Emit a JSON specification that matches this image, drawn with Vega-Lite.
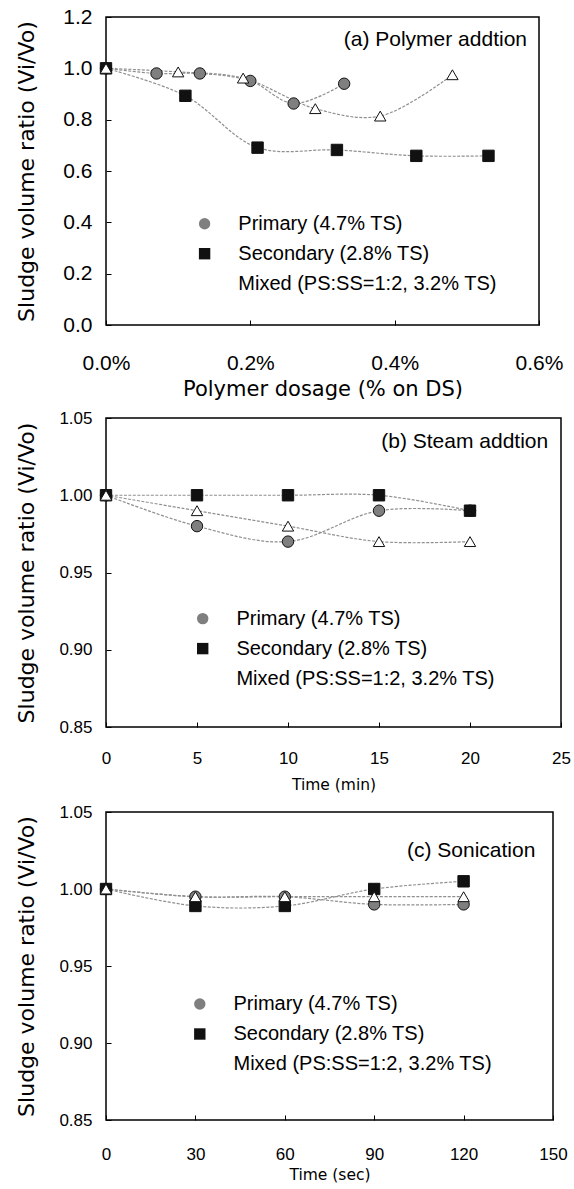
{
  "$schema": "https://vega.github.io/schema/vega-lite/v6.json",
  "background": "white",
  "padding": {"left": 14, "top": 5, "right": 5, "bottom": 0},
  "columns": 1,
  "spacing": 8,
  "resolve": {
    "scale": {"shape": "independent", "fill": "independent"}
  },
  "config": {
    "view": {"stroke": "#000", "strokeWidth": 1.5},
    "axis": {
      "labelColor": "#000", "titleColor": "#000", "tickColor": "#000",
      "grid": false, "domain": false, "labelFont": "Liberation Sans",
      "titleFont": "DejaVu Sans", "titleFontWeight": "normal",
      "labelOverlap": false, "labelFlush": false, "ticks": true, "tickSize": -5, "tickWidth": 1
    },
    "legend": {
      "symbolSize": 130, "labelFontSize": 20,
      "labelFont": "Liberation Sans", "labelColor": "#000", "labelOffset": 23.7,
      "rowPadding": 10, "padding": 0, "labelLimit": 400, "symbolStrokeWidth": 1,
      "symbolStrokeColor": "#111", "symbolOpacity": 1
    },
    "text": {"font": "Liberation Sans"}
  },
  "datasets": {
    "a": [
      {"series": "Primary (4.7% TS)", "x": 0, "y": 1.0},
      {"series": "Primary (4.7% TS)", "x": 0.07, "y": 0.98},
      {"series": "Primary (4.7% TS)", "x": 0.13, "y": 0.98},
      {"series": "Primary (4.7% TS)", "x": 0.2, "y": 0.951},
      {"series": "Primary (4.7% TS)", "x": 0.26, "y": 0.863},
      {"series": "Primary (4.7% TS)", "x": 0.33, "y": 0.94},
      {"series": "Secondary (2.8% TS)", "x": 0, "y": 1.0},
      {"series": "Secondary (2.8% TS)", "x": 0.11, "y": 0.893},
      {"series": "Secondary (2.8% TS)", "x": 0.21, "y": 0.691},
      {"series": "Secondary (2.8% TS)", "x": 0.32, "y": 0.682},
      {"series": "Secondary (2.8% TS)", "x": 0.43, "y": 0.659},
      {"series": "Secondary (2.8% TS)", "x": 0.53, "y": 0.659},
      {"series": "Mixed (PS:SS=1:2, 3.2% TS)", "x": 0, "y": 1.0},
      {"series": "Mixed (PS:SS=1:2, 3.2% TS)", "x": 0.1, "y": 0.986},
      {"series": "Mixed (PS:SS=1:2, 3.2% TS)", "x": 0.19, "y": 0.962},
      {"series": "Mixed (PS:SS=1:2, 3.2% TS)", "x": 0.29, "y": 0.843},
      {"series": "Mixed (PS:SS=1:2, 3.2% TS)", "x": 0.38, "y": 0.814},
      {"series": "Mixed (PS:SS=1:2, 3.2% TS)", "x": 0.48, "y": 0.975}
    ],
    "b": [
      {"series": "Primary (4.7% TS)", "x": 0, "y": 1.0},
      {"series": "Primary (4.7% TS)", "x": 5, "y": 0.98},
      {"series": "Primary (4.7% TS)", "x": 10, "y": 0.97},
      {"series": "Primary (4.7% TS)", "x": 15, "y": 0.99},
      {"series": "Primary (4.7% TS)", "x": 20, "y": 0.99},
      {"series": "Secondary (2.8% TS)", "x": 0, "y": 1.0},
      {"series": "Secondary (2.8% TS)", "x": 5, "y": 1.0},
      {"series": "Secondary (2.8% TS)", "x": 10, "y": 1.0},
      {"series": "Secondary (2.8% TS)", "x": 15, "y": 1.0},
      {"series": "Secondary (2.8% TS)", "x": 20, "y": 0.99},
      {"series": "Mixed (PS:SS=1:2, 3.2% TS)", "x": 0, "y": 1.0},
      {"series": "Mixed (PS:SS=1:2, 3.2% TS)", "x": 5, "y": 0.99},
      {"series": "Mixed (PS:SS=1:2, 3.2% TS)", "x": 10, "y": 0.98},
      {"series": "Mixed (PS:SS=1:2, 3.2% TS)", "x": 15, "y": 0.97},
      {"series": "Mixed (PS:SS=1:2, 3.2% TS)", "x": 20, "y": 0.97}
    ],
    "c": [
      {"series": "Primary (4.7% TS)", "x": 0, "y": 1.0},
      {"series": "Primary (4.7% TS)", "x": 30, "y": 0.995},
      {"series": "Primary (4.7% TS)", "x": 60, "y": 0.995},
      {"series": "Primary (4.7% TS)", "x": 90, "y": 0.99},
      {"series": "Primary (4.7% TS)", "x": 120, "y": 0.99},
      {"series": "Secondary (2.8% TS)", "x": 0, "y": 1.0},
      {"series": "Secondary (2.8% TS)", "x": 30, "y": 0.989},
      {"series": "Secondary (2.8% TS)", "x": 60, "y": 0.989},
      {"series": "Secondary (2.8% TS)", "x": 90, "y": 1.0},
      {"series": "Secondary (2.8% TS)", "x": 120, "y": 1.005},
      {"series": "Mixed (PS:SS=1:2, 3.2% TS)", "x": 0, "y": 1.0},
      {"series": "Mixed (PS:SS=1:2, 3.2% TS)", "x": 30, "y": 0.995},
      {"series": "Mixed (PS:SS=1:2, 3.2% TS)", "x": 60, "y": 0.995},
      {"series": "Mixed (PS:SS=1:2, 3.2% TS)", "x": 90, "y": 0.995},
      {"series": "Mixed (PS:SS=1:2, 3.2% TS)", "x": 120, "y": 0.995}
    ]
  },
  "concat": [
    {
      "width": 433,
      "height": 308,
      "layer": [
        {
          "data": {"name": "a"},
          "mark": {"type": "line", "interpolate": "catmull-rom", "color": "#8f8f8f", "strokeWidth": 1.2, "strokeDash": [3, 1.5]},
          "encoding": {
            "x": {"field": "x", "type": "quantitative", "scale": {"domain": [0, 0.6], "nice": false, "zero": false},
              "axis": {"title": "Polymer dosage (% on DS)", "values": [0, 0.2, 0.4, 0.6], "labelExpr": "format(datum.value, '.1f') + '%'", "labelFontSize": 21, "labelPadding": 32, "titleFontSize": 21, "titlePadding": 5}},
            "y": {"field": "y", "type": "quantitative", "scale": {"domain": [0, 1.2], "nice": false, "zero": false},
              "axis": {"title": "Sludge volume ratio (Vi/Vo)", "values": [0, 0.2, 0.4, 0.6, 0.8, 1.0, 1.2], "format": ".1f", "labelFontSize": 21, "labelPadding": 19, "titleFontSize": 22, "titlePadding": 24.8}},
            "detail": {"field": "series"}
          }
        },
        {
          "data": {"name": "a"},
          "mark": {"type": "point", "filled": true, "opacity": 1, "stroke": "#111", "strokeWidth": 1, "size": 130},
          "encoding": {
            "x": {"field": "x", "type": "quantitative", "title": "Polymer dosage (% on DS)"},
            "y": {"field": "y", "type": "quantitative", "title": "Sludge volume ratio (Vi/Vo)"},
            "shape": {"field": "series", "type": "nominal",
              "scale": {"domain": ["Primary (4.7% TS)", "Secondary (2.8% TS)", "Mixed (PS:SS=1:2, 3.2% TS)"], "range": ["circle", "square", "triangle-up"]},
              "legend": {"orient": "none", "title": null, "legendX": 88.6, "legendY": 196.7}},
            "fill": {"field": "series", "type": "nominal",
              "scale": {"domain": ["Primary (4.7% TS)", "Secondary (2.8% TS)", "Mixed (PS:SS=1:2, 3.2% TS)"], "range": ["#7f7f7f", "#111111", "#ffffff"]},
              "legend": {"orient": "none", "title": null, "legendX": 88.6, "legendY": 196.7}}
          }
        },
        {
          "data": {"values": [{"label": "(a) Polymer addtion"}]},
          "mark": {"type": "text", "align": "right", "baseline": "middle", "fontSize": 21, "dx": -12, "color": "#000"},
          "encoding": {
            "x": {"datum": 0.6, "type": "quantitative", "title": "Polymer dosage (% on DS)"},
            "y": {"datum": 1.1104, "type": "quantitative", "title": "Sludge volume ratio (Vi/Vo)"},
            "text": {"field": "label"}
          }
        }
      ]
    },
    {
      "width": 455,
      "height": 309,
      "layer": [
        {
          "data": {"name": "b"},
          "mark": {"type": "line", "interpolate": "catmull-rom", "color": "#8f8f8f", "strokeWidth": 1.2, "strokeDash": [3, 1.5]},
          "encoding": {
            "x": {"field": "x", "type": "quantitative", "scale": {"domain": [0, 25], "nice": false, "zero": false},
              "axis": {"title": "Time (min)", "values": [0, 5, 10, 15, 20, 25], "format": "d", "labelFontSize": 17, "labelPadding": 28, "titleFontSize": 15.5, "titlePadding": 11}},
            "y": {"field": "y", "type": "quantitative", "scale": {"domain": [0.85, 1.05], "nice": false, "zero": false},
              "axis": {"title": "Sludge volume ratio (Vi/Vo)", "values": [0.85, 0.9, 0.95, 1.0, 1.05], "format": ".2f", "labelFontSize": 17, "labelPadding": 19, "titleFontSize": 22, "titlePadding": 20.9}},
            "detail": {"field": "series"}
          }
        },
        {
          "data": {"name": "b"},
          "mark": {"type": "point", "filled": true, "opacity": 1, "stroke": "#111", "strokeWidth": 1, "size": 130},
          "encoding": {
            "x": {"field": "x", "type": "quantitative", "title": "Time (min)"},
            "y": {"field": "y", "type": "quantitative", "title": "Sludge volume ratio (Vi/Vo)"},
            "shape": {"field": "series", "type": "nominal",
              "scale": {"domain": ["Primary (4.7% TS)", "Secondary (2.8% TS)", "Mixed (PS:SS=1:2, 3.2% TS)"], "range": ["circle", "square", "triangle-up"]},
              "legend": {"orient": "none", "title": null, "legendX": 86.7, "legendY": 190.6}},
            "fill": {"field": "series", "type": "nominal",
              "scale": {"domain": ["Primary (4.7% TS)", "Secondary (2.8% TS)", "Mixed (PS:SS=1:2, 3.2% TS)"], "range": ["#7f7f7f", "#111111", "#ffffff"]},
              "legend": {"orient": "none", "title": null, "legendX": 86.7, "legendY": 190.6}}
          }
        },
        {
          "data": {"values": [{"label": "(b) Steam addtion"}]},
          "mark": {"type": "text", "align": "right", "baseline": "middle", "fontSize": 21, "dx": -12.8, "color": "#000"},
          "encoding": {
            "x": {"datum": 25, "type": "quantitative", "title": "Time (min)"},
            "y": {"datum": 1.0345, "type": "quantitative", "title": "Sludge volume ratio (Vi/Vo)"},
            "text": {"field": "label"}
          }
        }
      ]
    },
    {
      "width": 447,
      "height": 308,
      "layer": [
        {
          "data": {"name": "c"},
          "mark": {"type": "line", "interpolate": "catmull-rom", "color": "#8f8f8f", "strokeWidth": 1.2, "strokeDash": [3, 1.5]},
          "encoding": {
            "x": {"field": "x", "type": "quantitative", "scale": {"domain": [0, 150], "nice": false, "zero": false},
              "axis": {"title": "Time (sec)", "values": [0, 30, 60, 90, 120, 150], "format": "d", "labelFontSize": 17, "labelPadding": 31.5, "titleFontSize": 15.5, "titlePadding": 5}},
            "y": {"field": "y", "type": "quantitative", "scale": {"domain": [0.85, 1.05], "nice": false, "zero": false},
              "axis": {"title": "Sludge volume ratio (Vi/Vo)", "values": [0.85, 0.9, 0.95, 1.0, 1.05], "format": ".2f", "labelFontSize": 17, "labelPadding": 19, "titleFontSize": 22, "titlePadding": 20.9}},
            "detail": {"field": "series"}
          }
        },
        {
          "data": {"name": "c"},
          "mark": {"type": "point", "filled": true, "opacity": 1, "stroke": "#111", "strokeWidth": 1, "size": 130},
          "encoding": {
            "x": {"field": "x", "type": "quantitative", "title": "Time (sec)"},
            "y": {"field": "y", "type": "quantitative", "title": "Sludge volume ratio (Vi/Vo)"},
            "shape": {"field": "series", "type": "nominal",
              "scale": {"domain": ["Primary (4.7% TS)", "Secondary (2.8% TS)", "Mixed (PS:SS=1:2, 3.2% TS)"], "range": ["circle", "square", "triangle-up"]},
              "legend": {"orient": "none", "title": null, "legendX": 83.8, "legendY": 182}},
            "fill": {"field": "series", "type": "nominal",
              "scale": {"domain": ["Primary (4.7% TS)", "Secondary (2.8% TS)", "Mixed (PS:SS=1:2, 3.2% TS)"], "range": ["#7f7f7f", "#111111", "#ffffff"]},
              "legend": {"orient": "none", "title": null, "legendX": 83.8, "legendY": 182}}
          }
        },
        {
          "data": {"values": [{"label": "(c) Sonication"}]},
          "mark": {"type": "text", "align": "right", "baseline": "middle", "fontSize": 21, "dx": -17.6, "color": "#000"},
          "encoding": {
            "x": {"datum": 150, "type": "quantitative", "title": "Time (sec)"},
            "y": {"datum": 1.0245, "type": "quantitative", "title": "Sludge volume ratio (Vi/Vo)"},
            "text": {"field": "label"}
          }
        }
      ]
    }
  ]
}
